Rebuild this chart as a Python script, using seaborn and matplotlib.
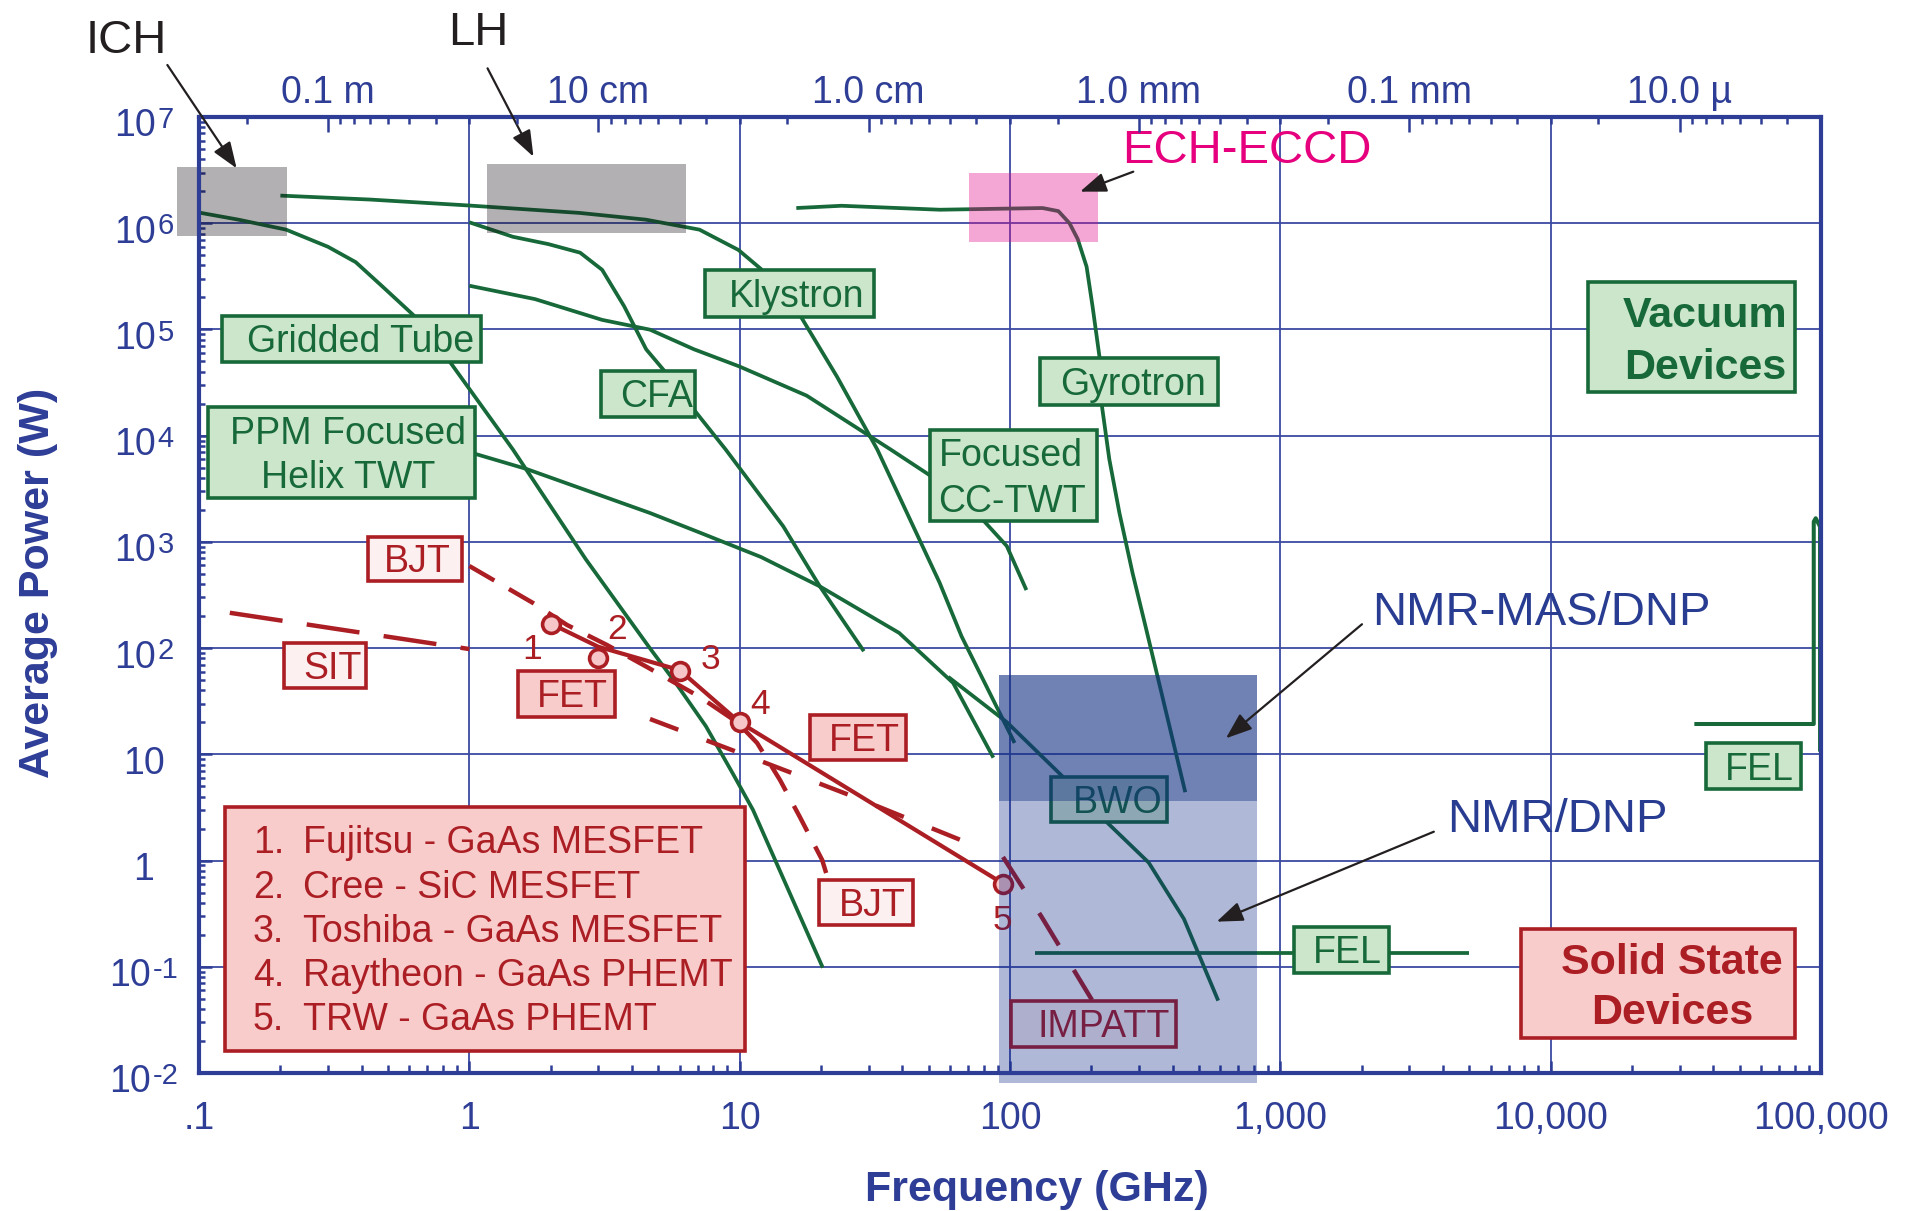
import matplotlib
matplotlib.use("Agg")
import matplotlib.pyplot as plt
import seaborn as sns
from matplotlib.patches import Rectangle
from matplotlib.ticker import FixedLocator, FixedFormatter, LogLocator, NullFormatter

# ---------------------------------------------------------------------------
# Vacuum devices: average power (W) against frequency (GHz)
gridded_f = [0.1, 0.14, 0.21, 0.3, 0.38, 0.48, 0.62, 0.85, 1.45, 2.7, 4.6, 5.8, 7.5, 9.4, 11.2, 14.9, 20.3]
gridded_p = [1.26e6, 1.08e6, 8.7e5, 6.0e5, 4.3e5, 2.5e5, 1.37e5, 4.9e4, 7.4e3, 683, 104, 47, 18.4, 6.7, 3.0, 0.58, 0.098]
klystron_f = [0.2, 0.43, 0.99, 2.56, 4.5, 7.1, 9.9, 12.0, 16.9, 22.9, 32.3, 54.9, 66.2, 104]
klystron_p = [1.82e6, 1.67e6, 1.47e6, 1.25e6, 1.08e6, 8.7e5, 5.6e5, 3.7e5, 1.3e5, 3.6e4, 7.4e3, 413, 129, 12.8]
cfa_f = [1.0, 1.45, 1.96, 2.57, 3.1, 3.74, 4.51, 5.28, 6.92, 8.88, 14.5, 19.8, 28.8]
cfa_p = [1.02e6, 7.45e5, 6.36e5, 5.28e5, 3.64e5, 1.65e5, 6.5e4, 4.04e4, 1.64e4, 7.4e3, 1.4e3, 381, 93.5]
cctwt_f = [1.0, 1.75, 3.1, 4.66, 6.78, 9.96, 17.7, 36.2, 50.0, 80.3, 97.3, 115]
cctwt_p = [2.58e5, 1.93e5, 1.23e5, 9.95e4, 6.5e4, 4.49e4, 2.38e4, 7.4e3, 4.31e3, 1.56e3, 914, 352]
helix_f = [1.0, 1.63, 4.66, 7.14, 12.0, 19.8, 38.9, 61.6, 86.8]
helix_p = [7.0e3, 4.85e3, 1.87e3, 1.22e3, 720, 381, 139, 47, 9.3]
gyrotron_f = [16.2, 23.8, 55, 132, 151, 166, 178, 192, 202, 215, 219, 233, 254, 284, 319, 445]
gyrotron_p = [1.39e6, 1.46e6, 1.34e6, 1.39e6, 1.30e6, 1.0e6, 7.1e5, 3.9e5, 1.65e5, 5.2e4, 1.87e4,
              6.0e3, 1.87e3, 510, 151, 4.4]
bwo_f = [59.1, 97.3, 154, 226, 326, 440, 589]
bwo_p = [53.6, 20.1, 6.44, 2.35, 0.956, 0.282, 0.048]
fel_mm_f = [124, 5000]
fel_mm_p = [0.134, 0.134]
fel_ir_f = [34000, 94000, 94000, 95600, 99200, 99200]
fel_ir_p = [19.3, 19.3, 1550, 1670, 1390, 10.6]

# Solid-state devices
sit_f = [0.13, 1.0]
sit_p = [215, 98]
bjt_f = [1.0, 1.72, 2.3, 3.23, 4.54, 7.13, 9.78, 11.6, 14.1, 16.7, 20.2, 21.0]
bjt_p = [593, 266, 165, 107, 66.4, 34.6, 20.1, 12.8, 5.73, 2.57, 1.01, 0.73]
fet_env_f = [2, 3, 6, 10, 94]
fet_env_p = [170, 103, 62, 20, 0.61]
fet_dash_f = [4.66, 10, 27.2, 73]
fet_dash_p = [21.5, 10.3, 3.88, 1.40]
impatt_f = [94.2, 131, 201]
impatt_p = [1.08, 0.294, 0.0487]

# Individual transistor results (numbered points)
device_f = [2, 3, 6, 10, 94]
device_p = [170, 80, 61, 20, 0.6]
device_names = ["Fujitsu - GaAs MESFET", "Cree - SiC MESFET", "Toshiba - GaAs MESFET",
                "Raytheon - GaAs PHEMT", "TRW - GaAs PHEMT"]

# Application regions: frequency span (GHz) and power span (W)
region_names = ["ICH", "LH", "ECH-ECCD", "NMR/DNP", "NMR-MAS/DNP"]
region_f_lo = [0.083, 1.16, 70.5, 91, 91]
region_f_hi = [0.212, 6.33, 212, 820, 820]
region_p_lo = [7.6e5, 8.1e5, 6.7e5, 0.008, 3.6]
region_p_hi = [3.4e6, 3.6e6, 3.0e6, 55.8, 55.8]

# Axis ticks
x_ticks = [0.1, 1, 10, 100, 1000, 10000, 100000]
x_tick_labels = [".1", "1", "10", "100", "1,000", "10,000", "100,000"]
y_ticks = [1e7, 1e6, 1e5, 1e4, 1e3, 1e2, 1e1, 1e0, 1e-1, 1e-2]
y_tick_labels = [("10", "7"), ("10", "6"), ("10", "5"), ("10", "4"), ("10", "3"), ("10", "2"),
                 ("10", ""), ("1", ""), ("10", "-1"), ("10", "-2")]
wave_ticks_m = [1, 0.1, 0.01, 1e-3, 1e-4, 1e-5]
wave_tick_labels = ["0.1 m", "10 cm", "1.0 cm", "1.0 mm", "0.1 mm", "10.0 \u00b5"]
C_LIGHT = 0.3  # m * GHz

# ---------------------------------------------------------------------------
BLUE = "#2e3d96"
GRID = "#3b4aa1"
GREEN = "#17693a"
GREEN_FACE = "#cce6cc"
RED = "#ab1e24"
RED_FACE = "#f9cccc"
RED_LIGHT = "#fdf0f0"
MARK_FACE = "#f7c6c8"
INK = "#231f20"
NMR_BLUE = "#283c91"
MAGENTA = "#e6007e"

REGION_STYLE = {
    "ICH": ("#120b12", 0.32),
    "LH": ("#120b12", 0.32),
    "ECH-ECCD": ("#e3088a", 0.36),
    "NMR/DNP": ("#082485", 0.32),
    "NMR-MAS/DNP": ("#133280", 0.40),
}

W, H, DPI = 1917, 1211, 100
AX_L, AX_T, AX_W, AX_H = 199, 117, 1622, 956

sns.set_theme(style="white")
plt.rcParams["font.family"] = ["Liberation Sans", "DejaVu Sans"]

fig = plt.figure(figsize=(W / DPI, H / DPI), dpi=DPI)
ax = fig.add_axes([AX_L / W, 1 - (AX_T + AX_H) / H, AX_W / W, AX_H / H])
ax.set_xscale("log")
ax.set_yscale("log")
ax.set_xlim(0.1, 1e5)
ax.set_ylim(1e-2, 1e7)
ax.set_axisbelow(True)


def curve(f, p, color, width, dashes=None, clip=True):
    sns.lineplot(x=f, y=p, ax=ax, color=color, linewidth=width, sort=False,
                 estimator=None, legend=False, zorder=3)
    line = ax.lines[-1]
    line.set_solid_capstyle("butt")
    line.set_solid_joinstyle("round")
    if dashes:
        line.set_dashes(dashes)
        line.set_dash_capstyle("butt")
    line.set_clip_on(clip)


# vacuum tube curves
for f, p in [(gridded_f, gridded_p), (klystron_f, klystron_p), (cfa_f, cfa_p),
             (cctwt_f, cctwt_p), (helix_f, helix_p), (gyrotron_f, gyrotron_p),
             (bwo_f, bwo_p), (fel_mm_f, fel_mm_p)]:
    curve(f, p, GREEN, 2.7)
curve(fel_ir_f, fel_ir_p, GREEN, 2.9, clip=False)

# solid-state curves
curve(sit_f, sit_p, RED, 3.2, dashes=[12, 5.5])
curve(bjt_f, bjt_p, RED, 3.2, dashes=[6.5, 3.8])
curve(fet_dash_f, fet_dash_p, RED, 3.2, dashes=[6.8, 6.8])
curve(impatt_f, impatt_p, RED, 3.2, dashes=[8.5, 6.5])
curve(fet_env_f, fet_env_p, RED, 3.0)

sns.scatterplot(x=device_f, y=device_p, ax=ax, s=165, marker="o", color=MARK_FACE,
                edgecolor=RED, linewidth=2.6, zorder=3.5, legend=False)

# numbers next to the transistor points (offsets in points)
num_offsets = [(-13.2, -18.5), (13.2, 20.5), (22.3, 8), (14.4, 12.5), (-0.4, -26)]
for i, (f, p) in enumerate(zip(device_f, device_p)):
    ax.annotate(str(i + 1), (f, p), xytext=num_offsets[i], textcoords="offset points",
                ha="center", va="center", fontsize=25.5, color=RED, zorder=3.6)

# application regions, drawn as tinted overlays
for name, flo, fhi, plo, phi in zip(region_names, region_f_lo, region_f_hi, region_p_lo, region_p_hi):
    col, alpha = REGION_STYLE[name]
    ax.add_patch(Rectangle((flo, plo), fhi - flo, phi - plo, facecolor=col, alpha=alpha,
                           edgecolor="none", zorder=5, clip_on=False))


def label_box(box, lines, tx, ha, face, edge, color, size=27, weight="normal", step=1.18):
    x0, y0, x1, y1 = box
    ax.add_patch(Rectangle((x0, y0), x1 - x0, y1 - y0, transform=ax.transAxes,
                           facecolor=face, edgecolor=edge, lw=2.6, zorder=4, clip_on=False))
    em = size * DPI / 72 / AX_H
    cap = 0.716 * em
    ymid = (y0 + y1) / 2
    n = len(lines)
    for i, s in enumerate(lines):
        yb = ymid - cap / 2 + ((n - 1) / 2 - i) * step * em
        ax.text(tx, yb, s, transform=ax.transAxes, ha=ha, va="baseline", fontsize=size,
                color=color, fontweight=weight, zorder=4.1, clip_on=False)


green_labels = [
    ((0.0139, 0.7442, 0.1741, 0.7916), ["Gridded Tube"], 0.1696, "right", 1.18),
    ((0.0053, 0.6010, 0.1703, 0.6969), ["PPM Focused", "Helix TWT"], 0.0919, "center", 1.16),
    ((0.2479, 0.6867, 0.3060, 0.7340), ["CFA"], 0.3045, "right", 1.18),
    ((0.3120, 0.7909, 0.4160, 0.8396), ["Klystron"], 0.4100, "right", 1.18),
    ((0.5182, 0.6991, 0.6285, 0.7481), ["Gyrotron"], 0.6209, "right", 1.18),
    ((0.4504, 0.5771, 0.5539, 0.6730), ["Focused", "CC-TWT"], 0.4559, "left", 1.22),
    ((0.5252, 0.2627, 0.5968, 0.3095), ["BWO"], 0.5938, "right", 1.18),
    ((0.6752, 0.1049, 0.7338, 0.1528), ["FEL"], 0.7294, "right", 1.18),
    ((0.9289, 0.2967, 0.9879, 0.3453), ["FEL"], 0.9833, "right", 1.18),
]
for box, lines, tx, ha, step in green_labels:
    label_box(box, lines, tx, ha, GREEN_FACE, GREEN, GREEN, step=step)
label_box((0.8566, 0.7120, 0.9840, 0.8271), ["Vacuum", "Devices"], 0.9284, "center",
          GREEN_FACE, GREEN, GREEN, size=31, weight="bold", step=1.2)

red_labels = [
    ((0.1040, 0.5151, 0.1620, 0.5607), ["BJT"], 0.1552, RED_LIGHT),
    ((0.0524, 0.4028, 0.1032, 0.4501), ["SIT"], 0.1001, RED_LIGHT),
    ((0.1967, 0.3725, 0.2562, 0.4207), ["FET"], 0.2521, RED_FACE),
    ((0.3764, 0.3269, 0.4360, 0.3749), ["FET"], 0.4319, RED_FACE),
    ((0.3821, 0.1547, 0.4401, 0.2023), ["BJT"], 0.4360, RED_LIGHT),
    ((0.5006, 0.0274, 0.6021, 0.0751), ["IMPATT"], 0.5986, RED_LIGHT),
]
for box, lines, tx, face in red_labels:
    label_box(box, lines, tx, "right", face, RED, RED)
label_box((0.8150, 0.0361, 0.9840, 0.1509), ["Solid State", "Devices"], 0.9081, "center",
          RED_FACE, RED, RED, size=31, weight="bold", step=1.16)

# numbered list of transistor results
ax.add_patch(Rectangle((0.0160, 0.0228), 0.3205, 0.2556, transform=ax.transAxes,
                       facecolor=RED_FACE, edgecolor=RED, lw=2.6, zorder=4))
for i, name in enumerate(device_names):
    yb = 0.2298 - i * 0.04623
    ax.text(0.0331, yb, f"{i + 1}.", transform=ax.transAxes, ha="left", va="baseline",
            fontsize=27, color=RED, zorder=4.1)
    ax.text(0.0642, yb, name, transform=ax.transAxes, ha="left", va="baseline",
            fontsize=27, color=RED, zorder=4.1)

# region names with pointer arrows
region_text = [
    ("ICH", -0.0450, 1.0666, INK, (-0.0195, 1.0544), (0.0232, 0.9463)),
    ("LH", 0.1725, 1.0753, INK, (0.1779, 1.0509), (0.2062, 0.9585)),
    ("ECH-ECCD", 0.6462, 0.9516, MAGENTA, (0.5760, 0.9428), (0.5432, 0.9219)),
    ("NMR-MAS/DNP", 0.8276, 0.4686, NMR_BLUE, (0.7170, 0.4694), (0.6331, 0.3501)),
    ("NMR/DNP", 0.8374, 0.2524, NMR_BLUE, (0.7613, 0.2524), (0.6274, 0.1583)),
]
for s, tx, ty, col, tail, head in region_text:
    ax.text(tx, ty, s, transform=ax.transAxes, ha="center", va="baseline", fontsize=34,
            color=col, zorder=7, clip_on=False)
    ax.annotate("", xy=head, xytext=tail, xycoords="axes fraction", textcoords="axes fraction",
                arrowprops=dict(arrowstyle="-|>,head_length=0.8,head_width=0.3", color=INK,
                                lw=1.6, shrinkA=0, shrinkB=0, mutation_scale=20),
                zorder=7, annotation_clip=False)

# ---------------------------------------------------------------------------
# axes, ticks and grid
ax.set_xlim(0.1, 1e5)
ax.set_ylim(1e-2, 1e7)
ax.xaxis.set_major_locator(FixedLocator(x_ticks))
ax.xaxis.set_major_formatter(FixedFormatter(x_tick_labels))
ax.xaxis.set_minor_locator(LogLocator(base=10, subs=range(2, 10), numticks=100))
ax.xaxis.set_minor_formatter(NullFormatter())
ax.yaxis.set_major_locator(FixedLocator(y_ticks))
ax.yaxis.set_major_formatter(NullFormatter())
ax.yaxis.set_minor_locator(LogLocator(base=10, subs=range(2, 10), numticks=100))
ax.yaxis.set_minor_formatter(NullFormatter())
ax.tick_params(which="both", direction="in", color=BLUE, width=1.8,
               bottom=True, left=True, top=False, right=False)
ax.tick_params(axis="x", which="major", length=9, labelsize=27, labelcolor=BLUE, pad=20)
ax.tick_params(axis="x", which="minor", length=5.8)
ax.tick_params(axis="y", which="major", length=9)
ax.tick_params(axis="y", which="minor", length=4.5)
ax.grid(True, which="major", color=GRID, lw=1.3)
ax.grid(False, which="minor")
ax.set_xlabel("")
ax.set_ylabel("")
for sp in ax.spines.values():
    sp.set_color(BLUE)
    sp.set_linewidth(3)
    sp.set_zorder(6)

# power labels as 10 with a raised exponent, centred left of the axis
cx = -(AX_L - 144) * 72 / DPI
ytrans = ax.get_yaxis_transform()
for val, (base, sup) in zip(y_ticks, y_tick_labels):
    if sup:
        bw = 0.556 * 27 * len(base)
        sw = sum(0.333 if c == "-" else 0.556 for c in sup) * 21
        total = bw + 1 + sw
        xr = cx - total / 2 + bw
        ax.annotate(base, (0, val), xycoords=ytrans, xytext=(xr, -14), textcoords="offset points",
                    ha="right", va="baseline", fontsize=27, color=BLUE, annotation_clip=False)
        ax.annotate(sup, (0, val), xycoords=ytrans, xytext=(xr + 1, -8), textcoords="offset points",
                    ha="left", va="baseline", fontsize=21, color=BLUE, annotation_clip=False)
    else:
        ax.annotate(base, (0, val), xycoords=ytrans, xytext=(cx, -14), textcoords="offset points",
                    ha="center", va="baseline", fontsize=27, color=BLUE, annotation_clip=False)

# wavelength scale on top
top = ax.twiny()
top.set_xscale("log")
top.set_xlim(ax.get_xlim())
wave_major_f = [C_LIGHT / lam for lam in wave_ticks_m]
wave_minor_f = [C_LIGHT / (k * 10.0 ** n) for n in range(-6, 2) for k in range(2, 10)
                if 0.1 <= C_LIGHT / (k * 10.0 ** n) <= 1e5]
top.xaxis.set_major_locator(FixedLocator(wave_major_f))
top.xaxis.set_major_formatter(FixedFormatter(wave_tick_labels))
top.xaxis.set_minor_locator(FixedLocator(wave_minor_f))
top.xaxis.set_minor_formatter(NullFormatter())
top.tick_params(axis="x", which="both", direction="in", color=BLUE, width=1.8, top=True,
                bottom=False, labeltop=True, labelbottom=False, labelsize=27,
                labelcolor=BLUE, pad=4)
top.tick_params(axis="x", which="major", length=10.8)
top.tick_params(axis="x", which="minor", length=5.3)
top.grid(False)
for sp in top.spines.values():
    sp.set_visible(False)

fig.text(49 / W, 1 - 583 / H, "Average Power (W)", rotation=90, rotation_mode="anchor",
         ha="center", va="baseline", fontsize=31, fontweight="bold", color=BLUE)
fig.text(1036.8 / W, 1 - 1201 / H, "Frequency (GHz)", ha="center", va="baseline",
         fontsize=31, fontweight="bold", color=BLUE)

fig.savefig("out.png", dpi=DPI)
